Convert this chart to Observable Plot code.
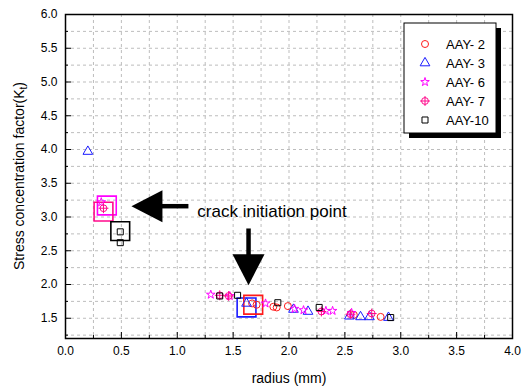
<!DOCTYPE html>
<html><head><meta charset="utf-8">
<script src="https://cdn.jsdelivr.net/npm/d3@7"></script>
<script src="https://cdn.jsdelivr.net/npm/@observablehq/plot@0.6"></script>
<style>body{margin:0;background:#fff;} #chart{width:522px;height:388px;}</style>
</head><body><div id="chart"></div>
<script>
// ---- data (radius mm, stress concentration factor Kt) ----
const seriesNames = ["AAY- 2","AAY- 3","AAY- 6","AAY- 7","AAY-10"];
const seriesColors = ["#ff1a1a","#1a1aff","#ff00ff","#ff0a8c","#000000"];
const aay2R = [1.67,1.71,1.86,1.89,1.99,2.58,2.82];
const aay2K = [1.72,1.70,1.67,1.66,1.68,1.55,1.52];
const aay3R = [0.20,1.62,2.04,2.17,2.54,2.64,2.72,2.89];
const aay3K = [3.97,1.72,1.63,1.60,1.53,1.52,1.52,1.51];
const aay6R = [0.32,1.30,1.47,1.79,2.05,2.13,2.33,2.39,2.56];
const aay6K = [3.22,1.85,1.83,1.72,1.64,1.62,1.61,1.61,1.58];
const aay7R = [0.34,1.38,1.46,2.29,2.55,2.74];
const aay7K = [3.13,1.84,1.83,1.60,1.56,1.57];
const aay10R = [0.49,0.49,1.38,1.54,1.90,2.27,2.91];
const aay10K = [2.78,2.62,1.83,1.84,1.73,1.66,1.51];
// crack initiation points (large boxes)
const markR = [0.37,0.34,0.49,1.62,1.68];
const markK = [3.17,3.08,2.79,1.66,1.70];
const markColor = ["#ff00ff","#ff0a8c","#000000","#1a1aff","#ff1a1a"];
// annotation
const noteText = "crack initiation point";
const noteR = 1.18, noteK = 3.086;
const arrowLeftTip = [0.59, 3.16], arrowLeftTail = [1.10, 3.16];
const arrowDownTip = [1.638, 1.99], arrowDownTail = [1.638, 2.83];
// ticks
const xMajor = d3.range(0, 4.001, 0.5);
const xMinor = d3.range(0.25, 4, 0.5);
const yMajor = d3.range(1.5, 6.001, 0.5);
const yMinor = d3.range(1.25, 6, 0.5);
const xGrid = d3.range(0.25, 4, 0.25);
const yGrid = d3.range(1.25, 6, 0.25);

// ---- symbols ----
const crossCircle = {draw(ctx, size){ const r = Math.sqrt(size/Math.PI); ctx.moveTo(r,0); ctx.arc(0,0,r,0,2*Math.PI); ctx.moveTo(-r*1.45,0); ctx.lineTo(r*1.45,0); ctx.moveTo(0,-r*1.45); ctx.lineTo(0,r*1.45);} };
const arrowHead = {draw(ctx){ ctx.moveTo(0,0); ctx.lineTo(31,-16); ctx.lineTo(31,16); ctx.closePath(); } };
const seriesSymbols = [d3.symbolCircle, d3.symbolTriangle, d3.symbolStar, crossCircle, d3.symbolSquare];
const seriesR = [3.5, 3.6, 2.7, 3.4, 3.4];
const allR = [aay2R, aay3R, aay6R, aay7R, aay10R];
const allK = [aay2K, aay3K, aay6K, aay7K, aay10K];

const font = "'Liberation Sans', Arial, sans-serif";
const dotMarks = allR.map((R, s) => Plot.dot(R.map((_, i) => i), {
  x: i => R[i], y: i => allK[s][i], symbol: seriesSymbols[s], r: seriesR[s],
  stroke: seriesColors[s], fill: "none", strokeWidth: 1
}));

const plot = Plot.plot({
  width: 522, height: 388,
  marginLeft: 65, marginRight: 10, marginTop: 14, marginBottom: 50,
  style: {fontFamily: font, fontSize: "12px", background: "white", color: "black"},
  x: {domain: [0, 4]},
  y: {domain: [1.2, 6]},
  color: {type: "identity"},
  marks: [
    Plot.gridX({ticks: xGrid, stroke: "#bdbdbd", strokeOpacity: 1, strokeDasharray: "3,3"}),
    Plot.gridY({ticks: yGrid, stroke: "#bdbdbd", strokeOpacity: 1, strokeDasharray: "3,3"}),
    Plot.dot(markR.map((_, i) => i), {x: i => markR[i], y: i => markK[i], symbol: "square", r: 10.6, stroke: i => markColor[i], fill: "none", strokeWidth: 1.6}),
    ...dotMarks,
    Plot.link([0], {x1: arrowLeftTip[0] + 0.25, y1: arrowLeftTip[1], x2: arrowLeftTail[0], y2: arrowLeftTail[1], stroke: "black", strokeWidth: 4.5}),
    Plot.link([0], {x1: arrowDownTail[0], y1: arrowDownTail[1], x2: arrowDownTip[0], y2: arrowDownTip[1] + 0.4, stroke: "black", strokeWidth: 4.5}),
    Plot.dot([0], {x: arrowLeftTip[0], y: arrowLeftTip[1], symbol: arrowHead, fill: "black", stroke: "none", r: 5}),
    Plot.dot([0], {x: arrowDownTip[0], y: arrowDownTip[1], symbol: arrowHead, fill: "black", stroke: "none", r: 5, rotate: -90}),
    Plot.text([noteText], {x: noteR, y: noteK, text: d => d, textAnchor: "start", fontSize: 17, fontFamily: font, fill: "black"}),
    Plot.frame({stroke: "black", strokeWidth: 1.5}),
    Plot.axisX({ticks: xMajor, tickSize: -6, tickPadding: 14, tickFormat: d3.format(".1f"), label: null, fontSize: 12}),
    Plot.axisX({ticks: xMinor, tickSize: -3, text: null, label: null}),
    Plot.axisY({ticks: yMajor, tickSize: -6, tickPadding: 14, tickFormat: d3.format(".1f"), label: null, fontSize: 12}),
    Plot.axisY({ticks: yMinor, tickSize: -3, text: null, label: null})
  ]
});
document.getElementById("chart").appendChild(plot);

// ---- titles and legend ----
const svg = d3.select(plot);
svg.append("text").attr("x", 289).attr("y", 383).attr("text-anchor", "middle")
  .attr("font-family", font).attr("font-size", 14).text("radius (mm)");
const yt = svg.append("text").attr("transform", "translate(24,176) rotate(-90)").attr("text-anchor", "middle")
  .attr("font-family", font).attr("font-size", 14);
yt.append("tspan").text("Stress concentration factor(K");
yt.append("tspan").attr("font-size", 10).attr("dy", 3).text("t");
yt.append("tspan").attr("dy", -3).text(")");

const lg = svg.append("g");
lg.append("rect").attr("x", 409).attr("y", 28).attr("width", 92).attr("height", 110).attr("fill", "black");
lg.append("rect").attr("x", 404).attr("y", 23).attr("width", 92).attr("height", 110).attr("fill", "white").attr("stroke", "black").attr("stroke-width", 1);
seriesNames.forEach((name, s) => {
  const y = 44 + s * 19;
  lg.append("path").attr("transform", `translate(425,${y})`)
    .attr("d", d3.symbol(seriesSymbols[s], Math.PI * seriesR[s] * seriesR[s])())
    .attr("fill", "none").attr("stroke", seriesColors[s]).attr("stroke-width", 1);
  lg.append("text").attr("x", 446).attr("y", y).attr("dy", "0.35em").attr("text-anchor", "start")
    .attr("font-family", font).attr("font-size", 13).text(name);
});
</script>
</body></html>
